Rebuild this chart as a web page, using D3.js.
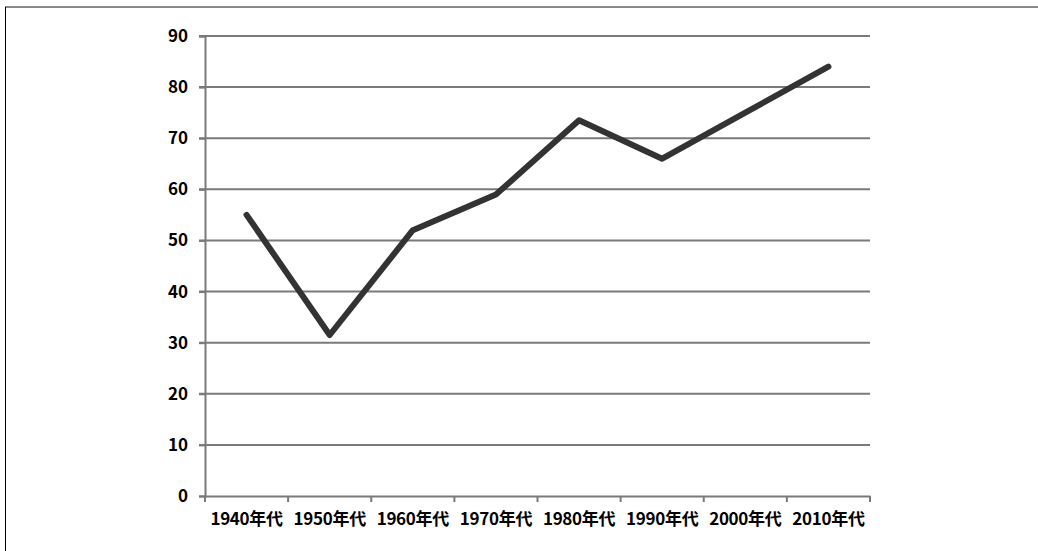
<!DOCTYPE html>
<html>
<head>
<meta charset="utf-8">
<script src="https://cdn.jsdelivr.net/npm/d3@7"></script>
<style>
  body { margin: 0; background: #fff; }
  svg { display: block; }
</style>
</head>
<body>
<div id="chart"></div>
<script>
// chart data
const decades = ['1940年代', '1950年代', '1960年代', '1970年代', '1980年代', '1990年代', '2000年代', '2010年代'];
const values = [55, 31.5, 52, 59, 73.5, 66, 75, 84];
const yTicks = [0, 10, 20, 30, 40, 50, 60, 70, 80, 90];

const width = 1038, height = 551;
const margin = { top: 36, left: 205, right: 168, bottom: 55 };

const svg = d3.select('#chart').append('svg')
  .attr('width', width)
  .attr('height', height);

// frame lines
svg.append('line')
  .attr('x1', 5).attr('x2', width).attr('y1', 7).attr('y2', 7)
  .attr('stroke', '#8a8a8a').attr('stroke-width', 2);
svg.append('line')
  .attr('x1', 5.5).attr('x2', 5.5).attr('y1', 7).attr('y2', height)
  .attr('stroke', '#000').attr('stroke-width', 1);

// scales
const x = d3.scaleBand()
  .domain(decades)
  .range([margin.left, width - margin.right]);

const y = d3.scaleLinear()
  .domain([0, 90])
  .range([height - margin.bottom, margin.top]);

// gridlines
svg.append('g')
  .selectAll('line')
  .data(yTicks.filter(d => d > 0))
  .join('line')
  .attr('x1', margin.left - 6)
  .attr('x2', width - margin.right)
  .attr('y1', d => y(d))
  .attr('y2', d => y(d))
  .attr('stroke', '#7a7a7a')
  .attr('stroke-width', 2);

// y axis
const yAxis = svg.append('g')
  .attr('transform', `translate(${margin.left},0)`)
  .call(d3.axisLeft(y).tickValues(yTicks).tickSize(6).tickPadding(11));
yAxis.select('.domain').attr('stroke', '#7a7a7a').attr('stroke-width', 2);
yAxis.selectAll('.tick line').attr('stroke', '#7a7a7a').attr('stroke-width', 2);
yAxis.selectAll('text')
  .attr('fill', '#000')
  .attr('font-family', '"Noto Sans CJK JP", "Noto Sans", sans-serif')
  .attr('font-weight', 'bold')
  .attr('font-size', '17px');

// x axis
const xAxis = svg.append('g')
  .attr('transform', `translate(0,${y(0)})`)
  .call(d3.axisBottom(x).tickSize(0).tickPadding(17));
xAxis.select('.domain').attr('stroke', '#7a7a7a').attr('stroke-width', 2);
xAxis.selectAll('text')
  .attr('fill', '#000')
  .attr('font-family', '"Noto Sans CJK JP", "Noto Sans", sans-serif')
  .attr('font-weight', 'bold')
  .attr('font-size', '17px')
  .attr('letter-spacing', '-0.3px');

// category boundary ticks
svg.append('g')
  .selectAll('line')
  .data(decades.concat(['end']))
  .join('line')
  .attr('x1', (d, i) => margin.left + i * x.step())
  .attr('x2', (d, i) => margin.left + i * x.step())
  .attr('y1', y(0))
  .attr('y2', y(0) + 6)
  .attr('stroke', '#7a7a7a')
  .attr('stroke-width', 2);

// data line
const line = d3.line()
  .x((d, i) => x(decades[i]) + x.bandwidth() / 2)
  .y(d => y(d));

svg.append('path')
  .datum(values)
  .attr('d', line)
  .attr('fill', 'none')
  .attr('stroke', '#333')
  .attr('stroke-width', 6)
  .attr('stroke-linejoin', 'round')
  .attr('stroke-linecap', 'round');
</script>
</body>
</html>
